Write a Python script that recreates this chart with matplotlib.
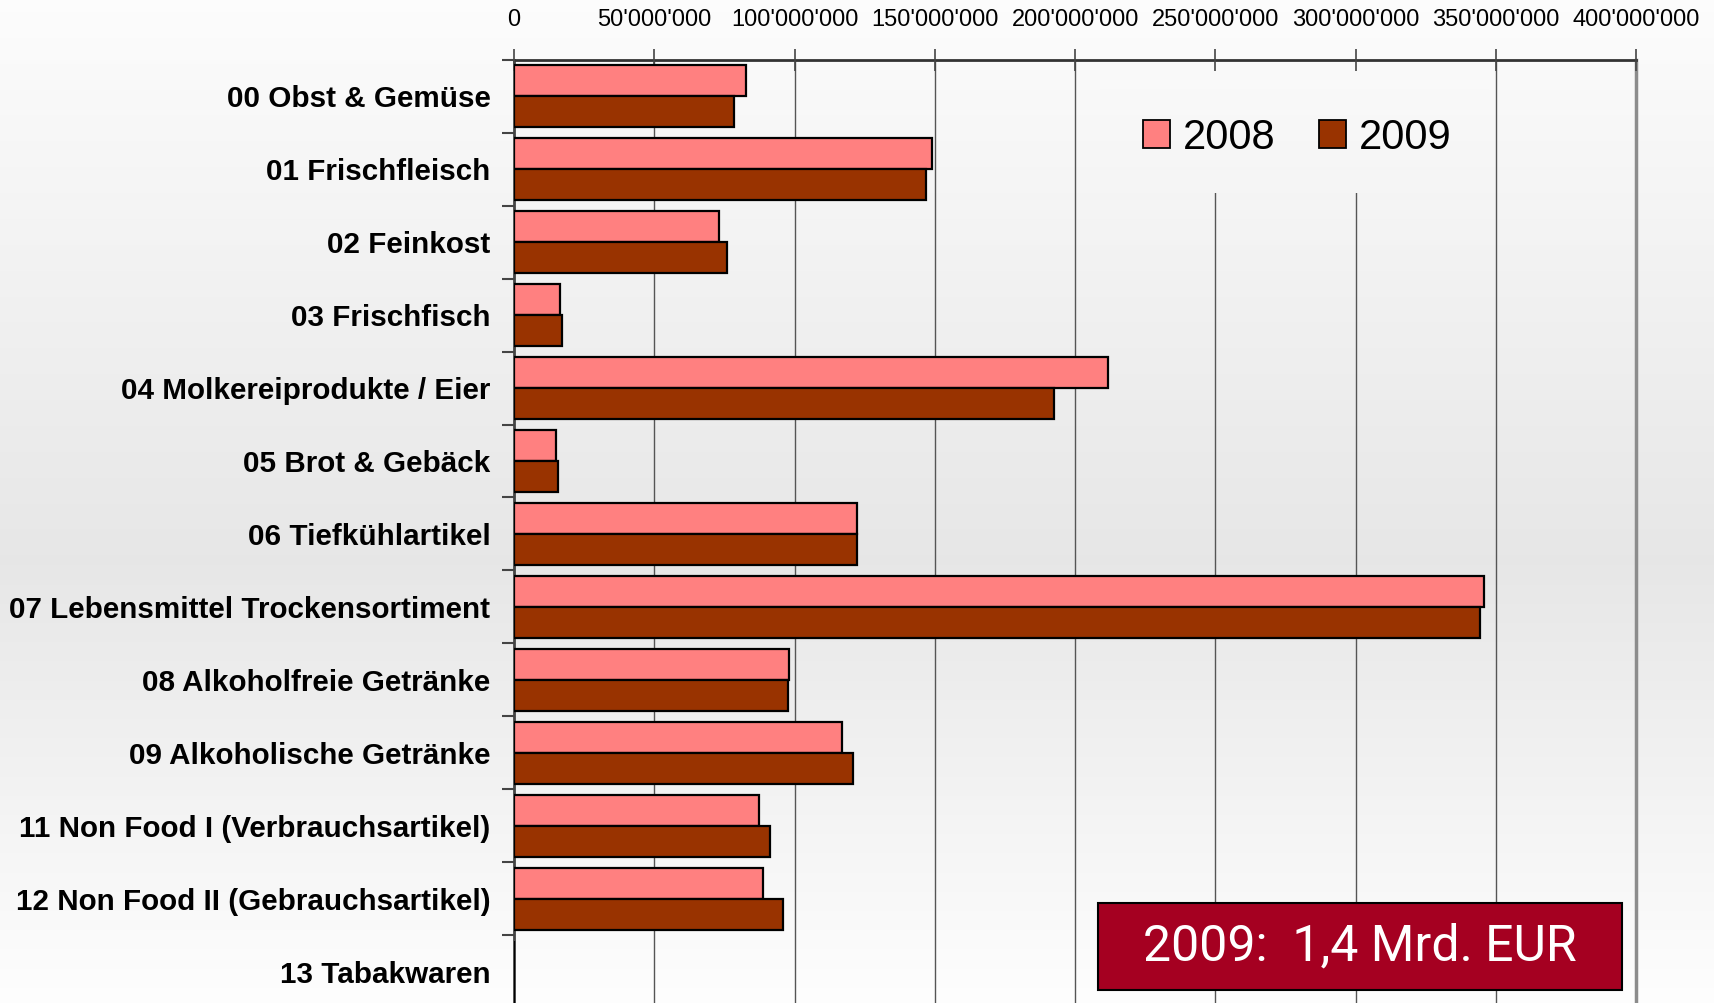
import numpy as np
import matplotlib
matplotlib.use("Agg")
import matplotlib.pyplot as plt
from matplotlib.patches import Rectangle, Patch

# ---- data ----
categories = [
    "00 Obst & Gemüse",
    "01 Frischfleisch",
    "02 Feinkost",
    "03 Frischfisch",
    "04 Molkereiprodukte / Eier",
    "05 Brot & Gebäck",
    "06 Tiefkühlartikel",
    "07 Lebensmittel Trockensortiment",
    "08 Alkoholfreie Getränke",
    "09 Alkoholische Getränke",
    "11 Non Food I (Verbrauchsartikel)",
    "12 Non Food II (Gebrauchsartikel)",
    "13 Tabakwaren",
]
values_2008 = [82.7e6, 148.9e6, 72.9e6, 16.4e6, 211.7e6, 14.8e6, 122.4e6,
               345.8e6, 98.2e6, 117.0e6, 87.3e6, 88.9e6, 0.0]
values_2009 = [78.4e6, 147.0e6, 76.0e6, 17.2e6, 192.6e6, 15.6e6, 122.4e6,
               344.2e6, 97.5e6, 120.9e6, 91.2e6, 95.9e6, 0.0]
series_names = ["2008", "2009"]
x_ticks = [0, 50e6, 100e6, 150e6, 200e6, 250e6, 300e6, 350e6, 400e6]
x_tick_labels = ["0", "50'000'000", "100'000'000", "150'000'000", "200'000'000",
                 "250'000'000", "300'000'000", "350'000'000", "400'000'000"]
summary_text = "2009:  1,4 Mrd. EUR"

# ---- styling ----
W, H = 1714, 1003
DPI = 100
col_2008 = "#FF8080"
col_2009 = "#993300"
FONT = ["Liberation Sans", "DejaVu Sans"]
AX_TOP, AX_BOT = 60, 1008          # pixel rows of the plot area

fig = plt.figure(figsize=(W / DPI + 0.001, H / DPI + 0.001), dpi=DPI)

# background gradient: white top -> light grey middle -> white bottom
def bg_val(t):
    t = np.asarray(t, dtype=float)
    top, mid, bot, tm = 0.99, 0.905, 0.995, 0.56
    return np.where(t < tm, top + (mid - top) * t / tm,
                    mid + (bot - mid) * (t - tm) / (1 - tm))

def grad_img(t0, t1, n=400):
    tt = np.linspace(t0, t1, n)
    g = bg_val(tt)[:, None]
    return np.repeat(g[:, :, None], 3, axis=2)

bg_ax = fig.add_axes([0, 0, 1, 1], zorder=-10)
bg_ax.imshow(grad_img(0, 1), aspect="auto", extent=[0, 1, 0, 1],
             interpolation="bilinear")
bg_ax.set_axis_off()

ax = fig.add_axes([514 / W, (H - AX_BOT) / H, (1636 - 514) / W,
                   (AX_BOT - AX_TOP) / H], zorder=0)
ax.set_facecolor("none")

y = np.arange(len(categories))
bh = 0.425
ax.barh(y - bh / 2, values_2008, height=bh, color=col_2008,
        edgecolor="black", linewidth=1.6, zorder=3)
ax.barh(y + bh / 2, values_2009, height=bh, color=col_2009,
        edgecolor="black", linewidth=1.6, zorder=3)

# vertical gridlines (below everything else)
for v in x_ticks[1:-1]:
    ax.axvline(v, color="#555555", linewidth=1.0, zorder=0.5)

# x axis on top
ax.xaxis.tick_top()
ax.set_xticks(x_ticks)
ax.set_xticklabels(x_tick_labels, fontsize=17, family=FONT)
ax.tick_params(axis="x", direction="inout", length=16, width=1.2,
               color="#444444", pad=13)
ax.set_axisbelow(False)

# y axis
ax.set_yticks(y)
ax.set_yticklabels(categories, fontsize=21.3, fontweight="bold", family=FONT)
ax.tick_params(axis="y", which="major", length=0, pad=17)
ax.set_yticks(np.arange(-0.5, len(categories) + 0.5, 1), minor=True)
ax.tick_params(axis="y", which="minor", length=9, width=1.5,
               color="#444444", direction="out")

ax.spines["bottom"].set_visible(False)
ax.spines["top"].set_color("#333333")
ax.spines["top"].set_linewidth(2.0)
ax.spines["left"].set_color("#444444")
ax.spines["left"].set_linewidth(2.0)
ax.spines["right"].set_color("#8c8c8c")
ax.spines["right"].set_linewidth(2.5)

xmax = 400e6
ax.set_xlim(0, xmax)
ax.set_ylim(len(categories) - 0.5, -0.5)

# legend background area hides the gridlines behind it
px_per_val = (1636 - 514) / xmax
row_px = (AX_BOT - AX_TOP) / len(categories)
cx0, cx1, cy1 = 1100, 1488, 193
ext = [(cx0 - 514) / px_per_val, (cx1 - 514) / px_per_val,
       (cy1 - AX_TOP) / row_px - 0.5, -0.5]
ax.imshow(grad_img(AX_TOP / H, cy1 / H, 100), aspect="auto", extent=ext,
          interpolation="bilinear", zorder=1)
ax.set_xlim(0, xmax)
ax.set_ylim(len(categories) - 0.5, -0.5)

handles = [Patch(facecolor=col_2008, edgecolor="black", linewidth=1.3),
           Patch(facecolor=col_2009, edgecolor="black", linewidth=1.3)]
leg = fig.legend(handles, series_names, ncol=2, loc="center",
                 bbox_to_anchor=(1297 / W, 1 - 138 / H),
                 prop={"family": FONT, "size": 30},
                 handlelength=0.65, handleheight=0.65, handletextpad=0.3,
                 columnspacing=1.05, borderpad=0.4, frameon=False)
leg.set_zorder(5)

# summary box
fig.patches.append(Rectangle((1098 / W, (H - 990) / H), 524 / W, 87 / H,
                             transform=fig.transFigure, facecolor="#A50021",
                             edgecolor="black", linewidth=1.5, zorder=10))
fig.text(1360 / W, 1 - 946 / H, summary_text, color="white", fontsize=36,
         family=["Roboto", "DejaVu Sans"], ha="center", va="center",
         zorder=11)

fig.savefig("out.png", dpi=DPI)
